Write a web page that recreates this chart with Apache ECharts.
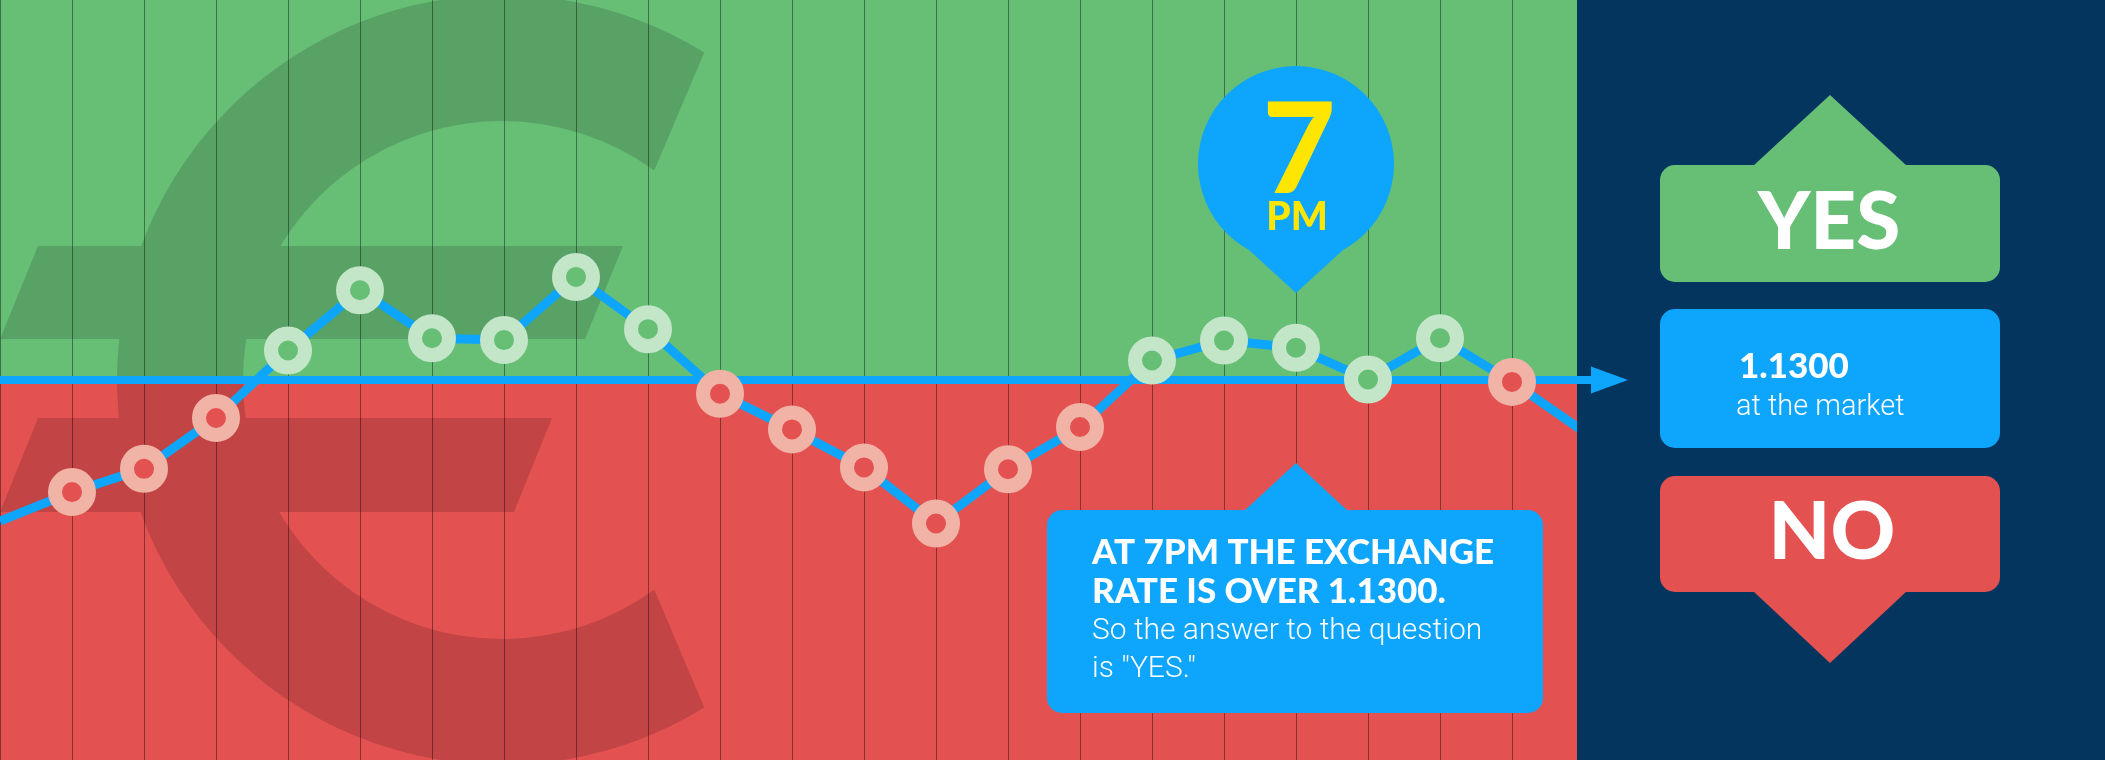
<!DOCTYPE html>
<html>
<head>
<meta charset="utf-8">
<script src="https://cdn.jsdelivr.net/npm/echarts@6/dist/echarts.min.js"></script>
<style>
  html, body { margin: 0; padding: 0; background: #03355f; }
  #chart { width: 2105px; height: 760px; }
</style>
</head>
<body>
<div id="chart"></div>
<script>
// hourly EUR/USD readings
const hours = ['1AM', '2AM', '3AM', '4AM', '5AM', '6AM', '7AM', '8AM', '9AM', '10AM', '11AM', '12PM',
  '1PM', '2PM', '3PM', '4PM', '5PM', '6PM', '7PM', '8PM', '9PM', '10PM', '11PM'];
const rates = [1.12703, 1.12764, 1.12813, 1.12920, 1.13062, 1.13189, 1.13088, 1.13084, 1.13217, 1.13107,
  1.12971, 1.12896, 1.12816, 1.12698, 1.12812, 1.12901, 1.13041, 1.13083, 1.13068, 1.13001,
  1.13088, 1.12996, 1.12891];
const threshold = 1.1300;
const rateMin = 1.122;
const rateMax = 1.138;
const pinHour = '7PM';
const pinDigit = '7';
const pinSuffix = 'PM';
const answerTitle = ['AT 7PM THE EXCHANGE', 'RATE IS OVER 1.1300.'];
const answerBody = ['So the answer to the question', 'is "YES."'];
const yesLabel = 'YES';
const noLabel = 'NO';
const marketValue = '1.1300';
const marketCaption = 'at the market';

const GREEN = '#67bf76';
const RED = '#e45151';
const BLUE = '#0ea5fd';
const NAVY = '#03355f';
const YELLOW = '#ffe600';
const RING_GREEN = '#c3e6c9';
const RING_RED = '#f1b3a6';
const BOLD_FONT = 'Lato, "Open Sans", sans-serif';
const LIGHT_FONT = '"Roboto Light", Roboto, "Open Sans", sans-serif';

// big euro sign behind the chart, one path so overlaps are filled once
function euroPath() {
  const cx = 502, cy = 380, R = 385, r = 259;
  const aO = 58.3 * Math.PI / 180, aI = 54 * Math.PI / 180;
  const ox = cx + R * Math.cos(aO), oy = R * Math.sin(aO);
  const ix = cx + r * Math.cos(aI), iy = r * Math.sin(aI);
  let d = 'M' + ox + ' ' + (cy - oy) + ' A' + R + ' ' + R + ' 0 1 0 ' + ox + ' ' + (cy + oy) +
    ' L' + ix + ' ' + (cy + iy) + ' A' + r + ' ' + r + ' 0 1 1 ' + ix + ' ' + (cy - iy) + ' Z';
  d += ' M38 246 L0 339 L585 339 L623 246 Z';
  d += ' M38 418 L0 512 L514 512 L552 418 Z';
  return d;
}
echarts.graphic.registerShape('euroSign', echarts.graphic.extendPath(euroPath(), {}));

const chart = echarts.init(document.getElementById('chart'));

chart.setOption({
  animation: false,
  grid: { left: -4, right: 521, top: 0, bottom: 0, containLabel: false },
  xAxis: {
    type: 'category',
    data: hours,
    boundaryGap: false,
    z: 1.5,
    axisLine: { show: false },
    axisTick: { show: false },
    axisLabel: { show: false },
    splitLine: { show: true, lineStyle: { color: 'rgba(0,0,0,0.4)', width: 1 } }
  },
  yAxis: {
    type: 'value',
    min: rateMin,
    max: rateMax,
    axisLine: { show: false },
    axisTick: { show: false },
    axisLabel: { show: false },
    splitLine: { show: false }
  },
  series: [
    {
      type: 'line',
      silent: true,
      symbolSize: 34,
      lineStyle: { width: 9, color: BLUE },
      itemStyle: { borderWidth: 14 },
      emphasis: { disabled: true },
      data: rates.map((v, i) => {
        const up = v >= threshold;
        return {
          value: v,
          symbol: (i === 0 || i === rates.length - 1) ? 'none' : 'circle',
          itemStyle: { color: up ? GREEN : RED, borderColor: up ? RING_GREEN : RING_RED }
        };
      }),
      markArea: {
        silent: true,
        z: 1,
        data: [
          [{ yAxis: threshold, itemStyle: { color: GREEN, opacity: 1 } }, { yAxis: rateMax }],
          [{ yAxis: rateMin, itemStyle: { color: RED, opacity: 1 } }, { yAxis: threshold }]
        ]
      },
      markLine: {
        silent: true,
        z: 1.8,
        symbol: 'none',
        label: { show: false },
        lineStyle: { color: BLUE, width: 8, type: 'solid' },
        data: [{ yAxis: threshold }]
      }
    }
  ]
});

// positions of the decorations come from the axes
const px = chart.convertToPixel({ xAxisIndex: 0 }, pinHour);
const ty = chart.convertToPixel({ yAxisIndex: 0 }, threshold);
const panelX = 1577;

function boldText(x, y, text, size, color, align) {
  return {
    type: 'text', x: x, y: y, z: 12,
    style: {
      text: text, fill: color, font: '900 ' + size + 'px ' + BOLD_FONT,
      textAlign: align || 'center', textVerticalAlign: 'middle'
    }
  };
}
function lightText(x, y, text, size) {
  return {
    type: 'text', x: x, y: y, z: 12,
    style: {
      text: text, fill: '#ffffff', font: '300 ' + size + 'px ' + LIGHT_FONT,
      textAlign: 'left', textVerticalAlign: 'middle'
    }
  };
}

const boxL = 1660, boxR = 2000, boxMid = 1830;

chart.setOption({
  graphic: [
    { type: 'euroSign', z: 1.2, silent: true, shape: {}, style: { fill: 'rgba(0,0,0,0.15)' } },

    // 7PM pin
    { type: 'circle', z: 6, shape: { cx: px, cy: 164, r: 98 }, style: { fill: BLUE } },
    { type: 'polygon', z: 6, shape: { points: [[px - 47, 250], [px + 47, 250], [px, 293]] }, style: { fill: BLUE } },
    boldText(px + 3, 152, pinDigit, 126, YELLOW),
    boldText(px + 1, 217, pinSuffix, 39, YELLOW),

    // answer callout
    { type: 'rect', z: 6, shape: { x: 1047, y: 510, width: 496, height: 203, r: 15 }, style: { fill: BLUE } },
    { type: 'polygon', z: 6, shape: { points: [[px - 52, 511], [px, 463], [px + 52, 511]] }, style: { fill: BLUE } },
    boldText(1092, 553, answerTitle[0], 35, '#ffffff', 'left'),
    boldText(1092, 592, answerTitle[1], 35, '#ffffff', 'left'),
    lightText(1092, 630, answerBody[0], 30),
    lightText(1092, 668, answerBody[1], 30),

    // right panel
    { type: 'rect', z: 10, shape: { x: panelX, y: 0, width: 2105 - panelX, height: 760 }, style: { fill: NAVY } },
    { type: 'rect', z: 11, shape: { x: panelX, y: ty - 4, width: 15, height: 8 }, style: { fill: BLUE } },
    { type: 'polygon', z: 11, shape: { points: [[1591, ty - 13.5], [1628, ty], [1591, ty + 13.5]] }, style: { fill: BLUE } },

    { type: 'rect', z: 11, shape: { x: boxL, y: 165, width: boxR - boxL, height: 117, r: 15 }, style: { fill: GREEN } },
    { type: 'polygon', z: 11, shape: { points: [[1753, 166], [boxMid, 95], [1907, 166]] }, style: { fill: GREEN } },
    boldText(1829, 223, yesLabel, 80, '#ffffff'),

    { type: 'rect', z: 11, shape: { x: boxL, y: 309, width: boxR - boxL, height: 139, r: 15 }, style: { fill: BLUE } },
    boldText(1739, 367, marketValue, 35, '#ffffff', 'left'),
    lightText(1736, 406, marketCaption, 29),

    { type: 'rect', z: 11, shape: { x: boxL, y: 476, width: boxR - boxL, height: 116, r: 15 }, style: { fill: RED } },
    { type: 'polygon', z: 11, shape: { points: [[1753, 591], [boxMid, 663], [1907, 591]] }, style: { fill: RED } },
    boldText(1832, 533, noLabel, 80, '#ffffff')
  ]
});

window.addEventListener('resize', () => chart.resize());
</script>
</body>
</html>
